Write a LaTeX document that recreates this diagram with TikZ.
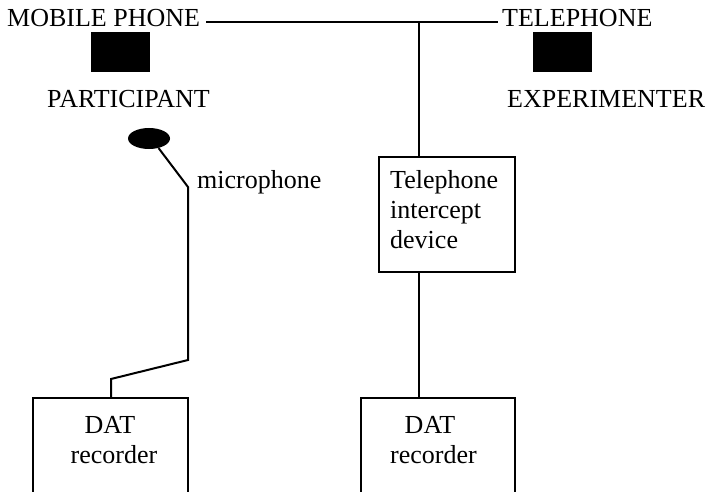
\documentclass[tikz,border=0pt]{standalone}
\usepackage{fontspec}
\setmainfont{Liberation Serif}
\usetikzlibrary{shapes.geometric}
\begin{document}
\begin{tikzpicture}[x=1pt,y=-1pt,
  lbl/.style={font=\fontsize{26}{30}\selectfont, inner sep=0pt, anchor=base west},
  wire/.style={line width=2pt},
  boxshape/.style={draw, line width=2pt, rectangle, inner sep=0pt},
  phone/.style={fill=black, rectangle, inner sep=0pt, minimum width=59pt, minimum height=40pt}]
\useasboundingbox (0,0) rectangle (709,492);
\clip (0,0) rectangle (709,492);
% top labels
\node[lbl] (mp) at (7,27) {MOBILE PHONE};
\node[lbl] (tel) at (502,27) {TELEPHONE};
\node[lbl] (part) at (47,108) {PARTICIPANT};
\node[lbl] (exp) at (507,108) {EXPERIMENTER};
\node[phone] (ph1) at (120.5,52) {};
\node[phone] (ph2) at (562.5,52) {};
% line between phones
\coordinate (la) at (206,22);
\coordinate (lb) at (498,22);
\coordinate (j) at (419,22);
\draw[wire] (la) -- (lb);
% intercept device
\node[boxshape, minimum width=136pt, minimum height=115pt] (tid) at (447,214.5) {};
\node[lbl] (t1) at (390,188) {Telephone};
\node[lbl] (t2) at (390,218) {intercept};
\node[lbl] (t3) at (390,248) {device};
\draw[wire] (j) -- (j |- tid.north);
% DAT recorders
\node[boxshape, minimum width=154pt, minimum height=110pt] (dat2) at (438,453) {};
\node[lbl, anchor=base] (d2a) at (430,433) {DAT};
\node[lbl, anchor=base] (d2b) at (433.5,463) {recorder};
\draw[wire] (j |- tid.south) -- (j |- dat2.north);
\node[boxshape, minimum width=155pt, minimum height=110pt] (dat1) at (110.5,453) {};
\node[lbl, anchor=base] (d1a) at (110,433) {DAT};
\node[lbl, anchor=base] (d1b) at (114,463) {recorder};
% microphone
\node[ellipse, fill=black, inner sep=0pt, minimum width=42pt, minimum height=21pt] (mic) at (149,138.5) {};
\node[lbl] (micl) at (197,188) {microphone};
\coordinate (m1) at (188,187);
\coordinate (m2) at (188,360);
\coordinate (m3) at (111,379);
\draw[wire, line join=miter] (mic.-45) -- (m1) -- (m2) -- (m3) -- (m3 |- dat1.north);
\end{tikzpicture}
\end{document}
